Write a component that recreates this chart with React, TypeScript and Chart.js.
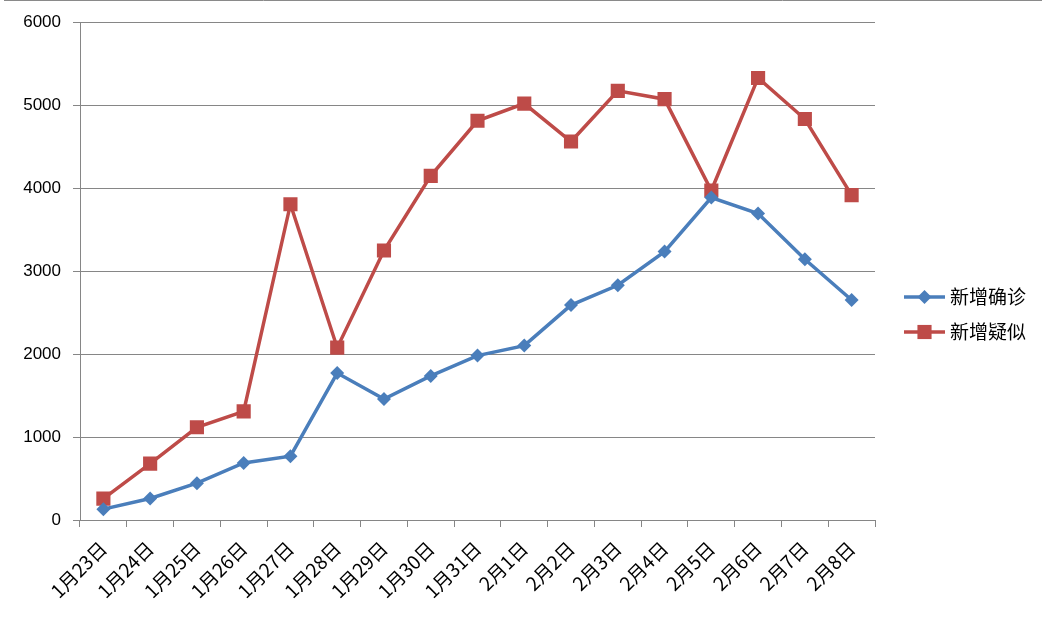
import React, { useEffect, useRef } from "react";
import { Chart, registerables } from "chart.js";

Chart.register(...registerables);

const categories = [
  "1月23日", "1月24日", "1月25日", "1月26日", "1月27日", "1月28日", "1月29日", "1月30日", "1月31日",
  "2月1日", "2月2日", "2月3日", "2月4日", "2月5日", "2月6日", "2月7日", "2月8日",
];
const confirmedLabel = "新增确诊";
const suspectedLabel = "新增疑似";
const confirmed = [131, 259, 444, 688, 769, 1771, 1459, 1737, 1982, 2102, 2590, 2829, 3235, 3887, 3694, 3143, 2652];
const suspected = [257, 680, 1118, 1309, 3806, 2077, 3248, 4148, 4812, 5019, 4562, 5173, 5072, 3971, 5328, 4833, 3916];
const yTicks = { min: 0, max: 6000, step: 1000 };

const BLUE = "#4A7EBB";
const RED = "#BE4B48";
const GRID = "#868686";

const legendPlugin = {
  id: "customLegend",
  afterDraw(chart: any) {
    const ctx = chart.ctx;
    ctx.save();
    // top frame line
    ctx.strokeStyle = "#8a8a8a";
    ctx.lineWidth = 1;
    ctx.beginPath();
    ctx.moveTo(4, 0.5);
    ctx.lineTo(1042, 0.5);
    ctx.stroke();

    const items = chart.data.datasets;
    const x0 = 904;
    const x1 = 945;
    const ys = [297, 332];
    items.forEach((ds: any, i: number) => {
      const y = ys[i];
      ctx.strokeStyle = ds.borderColor;
      ctx.lineWidth = ds.borderWidth;
      ctx.beginPath();
      ctx.moveTo(x0, y);
      ctx.lineTo(x1, y);
      ctx.stroke();
      const cx = (x0 + x1) / 2;
      ctx.fillStyle = ds.pointBackgroundColor;
      const r = ds.pointRadius;
      ctx.beginPath();
      if (ds.pointStyle === "rectRot") {
        ctx.moveTo(cx, y - r);
        ctx.lineTo(cx + r, y);
        ctx.lineTo(cx, y + r);
        ctx.lineTo(cx - r, y);
        ctx.closePath();
      } else {
        const s = Math.SQRT1_2 * r;
        ctx.rect(cx - s, y - s, 2 * s, 2 * s);
      }
      ctx.fill();
      ctx.fillStyle = "#000";
      ctx.font = '19px "Noto Sans CJK SC"';
      ctx.textBaseline = "middle";
      ctx.textAlign = "left";
      ctx.fillText(ds.label, 950, y);
    });
    ctx.restore();
  },
};

export default function App() {
  const ref = useRef<HTMLCanvasElement | null>(null);
  useEffect(() => {
    document.body.style.margin = "0";
    const canvas = ref.current!;
    const chart = new Chart(canvas, {
      type: "line",
      data: {
        labels: categories,
        datasets: [
          {
            label: confirmedLabel,
            data: confirmed,
            borderColor: BLUE,
            backgroundColor: BLUE,
            pointBackgroundColor: BLUE,
            pointBorderWidth: 0,
            borderWidth: 3.5,
            pointStyle: "rectRot",
            pointRadius: 7,
            tension: 0,
          },
          {
            label: suspectedLabel,
            data: suspected,
            borderColor: RED,
            backgroundColor: RED,
            pointBackgroundColor: RED,
            pointBorderWidth: 0,
            borderWidth: 3.5,
            pointStyle: "rect",
            pointRadius: 10,
            tension: 0,
          },
        ],
      },
      options: {
        responsive: false,
        animation: false,
        devicePixelRatio: 1,
        layout: { padding: { top: 21, right: 171, left: 0, bottom: 0 } },
        plugins: { legend: { display: false }, tooltip: { enabled: false } },
        scales: {
          x: {
            type: "category",
            offset: true,
            grid: {
              offset: true,
              drawOnChartArea: false,
              drawTicks: true,
              tickLength: 7,
              color: GRID,
            },
            border: { display: true, color: GRID },
            ticks: {
              minRotation: 45,
              maxRotation: 45,
              autoSkip: false,
              padding: 10,
              color: "#000",
              font: { family: '"Noto Sans CJK SC"', size: 19 },
            },
            afterFit: (s: any) => {
              s.height = 99;
            },
          },
          y: {
            min: yTicks.min,
            max: yTicks.max,
            ticks: {
              stepSize: yTicks.step,
              padding: 12,
              color: "#000",
              font: { family: '"Liberation Sans"', size: 17 },
              callback: (v: any) => String(v),
            },
            grid: { color: GRID, tickLength: 7 },
            border: { display: true, color: GRID },
            afterFit: (s: any) => {
              s.width = 80;
            },
          },
        },
      },
      plugins: [legendPlugin],
    });
    return () => chart.destroy();
  }, []);
  return <canvas ref={ref} width={1046} height={619} style={{ display: "block" }} />;
}
